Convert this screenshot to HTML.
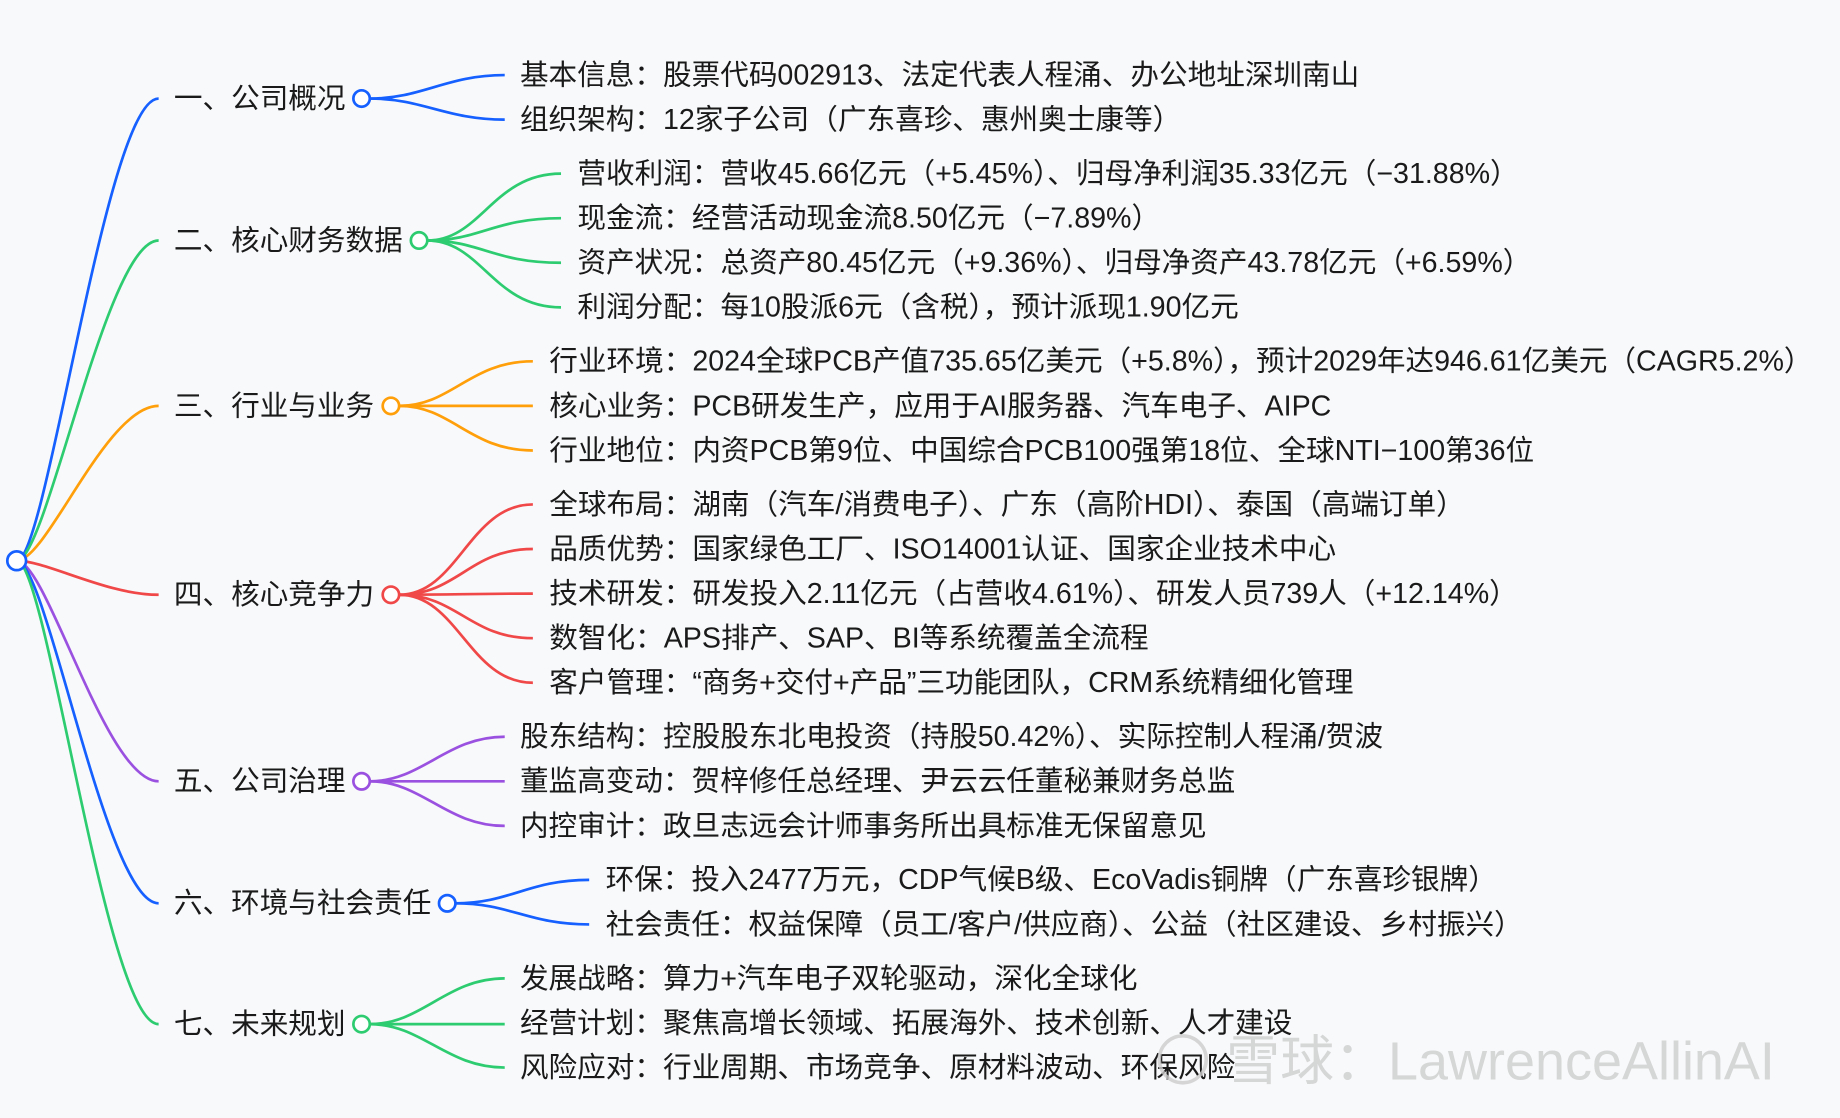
<!DOCTYPE html>
<html><head><meta charset="utf-8"><style>
html,body{margin:0;padding:0;background:#f8f9fb;}
svg{display:block}
text{font-family:"Liberation Sans","Noto Sans CJK SC",sans-serif;font-size:24.4px;fill:#1a1a1a}
</style></head><body>
<svg width="1840" height="1118" viewBox="0 0 1568 953" xmlns="http://www.w3.org/2000/svg">
<rect width="1568" height="953" fill="#f8f9fb"/>
<g fill="none" stroke-width="2.3">
<path d="M14,478 C40,478 90,84 135,84" stroke="#1560ff"/>
<path d="M14,478 C40,478 90,205 135,205" stroke="#2ecc71"/>
<path d="M14,478 C40,478 90,346 135,346" stroke="#ff9f0a"/>
<path d="M14,478 C40,478 90,507 135,507" stroke="#f04848"/>
<path d="M14,478 C40,478 90,666 135,666" stroke="#9b51e0"/>
<path d="M14,478 C40,478 90,770 135,770" stroke="#1560ff"/>
<path d="M14,478 C40,478 90,873 135,873" stroke="#2ecc71"/>
<g stroke="#1560ff"><path d="M315,84 C360,84 380,64 430,64"/><path d="M315,84 C360,84 380,102 430,102"/></g>
<g stroke="#2ecc71"><path d="M364,205 C410,205 420,148 478,148"/><path d="M364,205 C410,205 420,186 478,186"/><path d="M364,205 C410,205 420,224 478,224"/><path d="M364,205 C410,205 420,262 478,262"/></g>
<g stroke="#ff9f0a"><path d="M340,346 C385,346 400,308 454,308"/><path d="M340,346 L454,346"/><path d="M340,346 C385,346 400,384 454,384"/></g>
<g stroke="#f04848"><path d="M340,507 C390,507 400,430 454,430"/><path d="M340,507 C390,507 400,468 454,468"/><path d="M340,507 C390,507 400,506 454,506"/><path d="M340,507 C390,507 400,544 454,544"/><path d="M340,507 C390,507 400,582 454,582"/></g>
<g stroke="#9b51e0"><path d="M315,666 C360,666 380,628 430,628"/><path d="M315,666 L430,666"/><path d="M315,666 C360,666 380,704 430,704"/></g>
<g stroke="#1560ff"><path d="M388,770 C435,770 450,750 502,750"/><path d="M388,770 C435,770 450,788 502,788"/></g>
<g stroke="#2ecc71"><path d="M315,873 C360,873 380,834 430,834"/><path d="M315,873 L430,873"/><path d="M315,873 C360,873 380,910 430,910"/></g>
</g>
<g fill="#fff" stroke-width="2.3">
<circle cx="14" cy="478" r="8" stroke="#1560ff"/>
<circle cx="308" cy="84" r="7" stroke="#1560ff"/>
<circle cx="357" cy="205" r="7" stroke="#2ecc71"/>
<circle cx="333" cy="346" r="7" stroke="#ff9f0a"/>
<circle cx="333" cy="507" r="7" stroke="#f04848"/>
<circle cx="308" cy="666" r="7" stroke="#9b51e0"/>
<circle cx="381" cy="770" r="7" stroke="#1560ff"/>
<circle cx="308" cy="873" r="7" stroke="#2ecc71"/>
</g>
<g>
<text x="148" y="92">一、公司概况</text>
<text x="148" y="213">二、核心财务数据</text>
<text x="148" y="354">三、行业与业务</text>
<text x="148" y="515">四、核心竞争力</text>
<text x="148" y="674">五、公司治理</text>
<text x="148" y="778">六、环境与社会责任</text>
<text x="148" y="881">七、未来规划</text>

<text x="443" y="72">基本信息：股票代码002913、法定代表人程涌、办公地址深圳南山</text>
<text x="443" y="110">组织架构：12家子公司（广东喜珍、惠州奥士康等）</text>
<text x="492" y="156">营收利润：营收45.66亿元（+5.45%）、归母净利润35.33亿元（−31.88%）</text>
<text x="492" y="194">现金流：经营活动现金流8.50亿元（−7.89%）</text>
<text x="492" y="232">资产状况：总资产80.45亿元（+9.36%）、归母净资产43.78亿元（+6.59%）</text>
<text x="492" y="270">利润分配：每10股派6元（含税），预计派现1.90亿元</text>
<text x="468" y="316">行业环境：2024全球PCB产值735.65亿美元（+5.8%），预计2029年达946.61亿美元（CAGR5.2%）</text>
<text x="468" y="354">核心业务：PCB研发生产，应用于AI服务器、汽车电子、AIPC</text>
<text x="468" y="392">行业地位：内资PCB第9位、中国综合PCB100强第18位、全球NTI−100第36位</text>
<text x="468" y="438">全球布局：湖南（汽车/消费电子）、广东（高阶HDI）、泰国（高端订单）</text>
<text x="468" y="476">品质优势：国家绿色工厂、ISO14001认证、国家企业技术中心</text>
<text x="468" y="514">技术研发：研发投入2.11亿元（占营收4.61%）、研发人员739人（+12.14%）</text>
<text x="468" y="552">数智化：APS排产、SAP、BI等系统覆盖全流程</text>
<text x="468" y="590">客户管理：“商务+交付+产品”三功能团队，CRM系统精细化管理</text>
<text x="443" y="636">股东结构：控股股东北电投资（持股50.42%）、实际控制人程涌/贺波</text>
<text x="443" y="674">董监高变动：贺梓修任总经理、尹云云任董秘兼财务总监</text>
<text x="443" y="712">内控审计：政旦志远会计师事务所出具标准无保留意见</text>
<text x="516" y="758">环保：投入2477万元，CDP气候B级、EcoVadis铜牌（广东喜珍银牌）</text>
<text x="516" y="796">社会责任：权益保障（员工/客户/供应商）、公益（社区建设、乡村振兴）</text>
<text x="443" y="842">发展战略：算力+汽车电子双轮驱动，深化全球化</text>
<text x="443" y="880">经营计划：聚焦高增长领域、拓展海外、技术创新、人才建设</text>
<text x="443" y="918">风险应对：行业周期、市场竞争、原材料波动、环保风险</text>
</g>
<circle cx="1008" cy="903" r="20" fill="none" stroke="#ccc" stroke-width="3" opacity="0.8"/>
<text x="1045" y="920" style="font-size:46px;fill:#d0d0d0;opacity:0.85">雪球：LawrenceAllinAI</text>
</svg>
</body></html>
